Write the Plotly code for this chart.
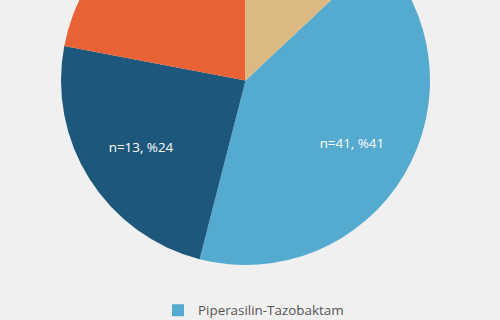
import plotly.graph_objects as go

labels = ["Piperasilin-Tazobaktam", "Meropenem", "Seftriakson", "Diğer"]
values = [41, 24, 22, 13]
slice_text = ["n=41, %41", "n=13, %24", "n=12, %22", "n=7, %13"]
colors = ["#54AACF", "#1D577B", "#E86236", "#DCB983"]

W, H = 500, 560
SHIFT = 110  # page shift upward (px)
cx, cy, R = 245.5, 80.5 + SHIFT, 184.5
dom = dict(x=[(cx - R) / W, (cx + R) / W], y=[(H - cy - R) / H, (H - cy + R) / H])

fig = go.Figure()
fig.add_trace(go.Pie(
    labels=labels,
    values=values,
    textinfo="none",
    marker=dict(colors=colors, line=dict(width=0)),
    sort=False,
    direction="clockwise",
    rotation=46.8,
    hoverinfo="skip",
    showlegend=True,
    domain=dom,
))
# transparent ring carrying the slice labels (keeps labels at ~2/3 radius)
fig.add_trace(go.Pie(
    labels=labels,
    values=values,
    text=slice_text,
    textinfo="text",
    textposition="inside",
    insidetextorientation="horizontal",
    textfont=dict(family="Open Sans", size=13.4, color="#ffffff"),
    marker=dict(colors=["rgba(0,0,0,0)"] * len(values), line=dict(width=0)),
    hole=0.34,
    sort=False,
    direction="clockwise",
    rotation=46.8,
    hoverinfo="skip",
    showlegend=False,
    domain=dom,
))

fig.update_layout(
    width=W, height=H,
    margin=dict(l=0, r=0, t=0, b=0),
    paper_bgcolor="#F0F0F0",
    plot_bgcolor="#F0F0F0",
    showlegend=True,
    legend=dict(
        orientation="v",
        x=158 / W, xanchor="left",
        y=(H - 405) / H, yanchor="top",
        font=dict(family="Open Sans", size=13.4, color="#555555"),
        bgcolor="rgba(0,0,0,0)",
    ),
)

post = (
    "document.body.style.margin='0';"
    "document.body.style.overflow='hidden';"
    "document.body.style.background='#F0F0F0';"
    "document.getElementById('{plot_id}').style.marginTop='-%dpx';" % SHIFT
)
fig.write_html("out.html", post_script=post)
